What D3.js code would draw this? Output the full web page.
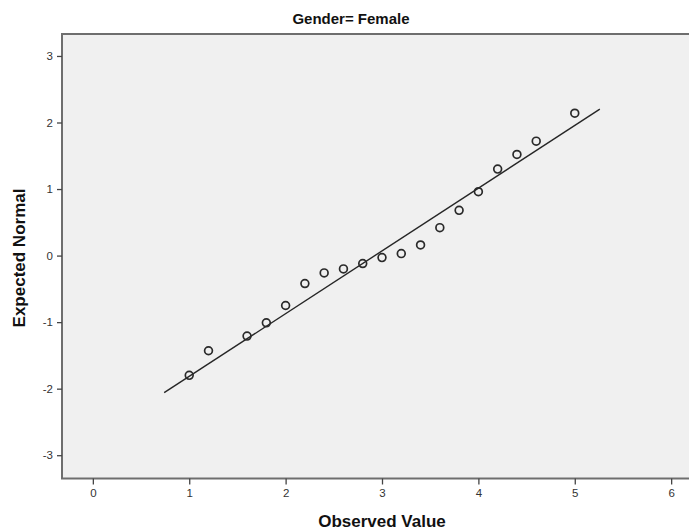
<!DOCTYPE html>
<html>
<head>
<meta charset="utf-8">
<script src="https://cdn.jsdelivr.net/npm/d3@7"></script>
<style>
  html, body { margin: 0; padding: 0; background: #ffffff; }
  svg { display: block; }
</style>
</head>
<body>
<svg id="chart" width="689" height="532"></svg>
<script>
// Data
const title = "Gender= Female";
const xLabel = "Observed Value";
const yLabel = "Expected Normal";
const observed = [1.0, 1.2, 1.6, 1.8, 2.0, 2.2, 2.4, 2.6, 2.8, 3.0, 3.2, 3.4, 3.6, 3.8, 4.0, 4.2, 4.4, 4.6, 5.0];
const expected = [-1.80, -1.43, -1.21, -1.01, -0.75, -0.42, -0.26, -0.20, -0.12, -0.03, 0.03, 0.16, 0.42, 0.68, 0.96, 1.30, 1.52, 1.72, 2.14];
const lineX = [0.74, 5.26];
const lineY = [-2.06, 2.20];
const xTicks = [0, 1, 2, 3, 4, 5, 6];
const yTicks = [-3, -2, -1, 0, 1, 2, 3];

const svg = d3.select("#chart");
const plot = { left: 62, right: 702, top: 34, bottom: 478.5 };

const x = d3.scaleLinear().domain([-0.32, 6.32]).range([plot.left, plot.right]);
const y = d3.scaleLinear().domain([-3.35, 3.33]).range([plot.bottom, plot.top]);

// Plot background
svg.append("rect")
  .attr("x", plot.left).attr("y", plot.top)
  .attr("width", plot.right - plot.left).attr("height", plot.bottom - plot.top)
  .attr("fill", "#f0f0f0")
  .attr("stroke", "#6e6e6e").attr("stroke-width", 2);

// Axes
const fmt = d => String(d);
const xAxis = svg.append("g")
  .attr("transform", `translate(0,${plot.bottom})`)
  .call(d3.axisBottom(x).tickValues(xTicks).tickSize(6).tickPadding(4).tickFormat(fmt));
const yAxis = svg.append("g")
  .attr("transform", `translate(${plot.left},0)`)
  .call(d3.axisLeft(y).tickValues(yTicks).tickSize(5).tickPadding(3).tickFormat(fmt));

[xAxis, yAxis].forEach(g => {
  g.select(".domain").remove();
  g.selectAll(".tick line").attr("stroke", "#444").attr("stroke-width", 1.3);
  g.selectAll(".tick text")
    .attr("fill", "#333")
    .style("font-family", "'Liberation Sans', Arial, sans-serif")
    .style("font-size", "11.5px");
});
yAxis.selectAll(".tick text").attr("dx", "-1");

// Reference line
svg.append("line")
  .attr("x1", x(lineX[0])).attr("y1", y(lineY[0]))
  .attr("x2", x(lineX[1])).attr("y2", y(lineY[1]))
  .attr("stroke", "#262626").attr("stroke-width", 1.4);

// Points
svg.append("g").selectAll("circle")
  .data(observed.map((v, i) => ({ v, z: expected[i] })))
  .join("circle")
  .attr("cx", d => x(d.v))
  .attr("cy", d => y(d.z))
  .attr("r", 3.9)
  .attr("fill", "none")
  .attr("stroke", "#2a2a2a")
  .attr("stroke-width", 1.7);

// Title
svg.append("text")
  .attr("x", 351).attr("y", 23.5)
  .attr("text-anchor", "middle")
  .style("font-family", "'Liberation Sans', Arial, sans-serif")
  .style("font-weight", "bold")
  .style("font-size", "15px")
  .attr("fill", "#111")
  .text(title);

// X label
svg.append("text")
  .attr("x", (plot.left + plot.right) / 2).attr("y", 527)
  .attr("text-anchor", "middle")
  .style("font-family", "'Liberation Sans', Arial, sans-serif")
  .style("font-weight", "bold")
  .style("font-size", "17px")
  .attr("fill", "#111")
  .text(xLabel);

// Y label
svg.append("text")
  .attr("transform", `translate(25,258) rotate(-90)`)
  .attr("text-anchor", "middle")
  .style("font-family", "'Liberation Sans', Arial, sans-serif")
  .style("font-weight", "bold")
  .style("font-size", "17px")
  .attr("fill", "#111")
  .text(yLabel);
</script>
</body>
</html>
